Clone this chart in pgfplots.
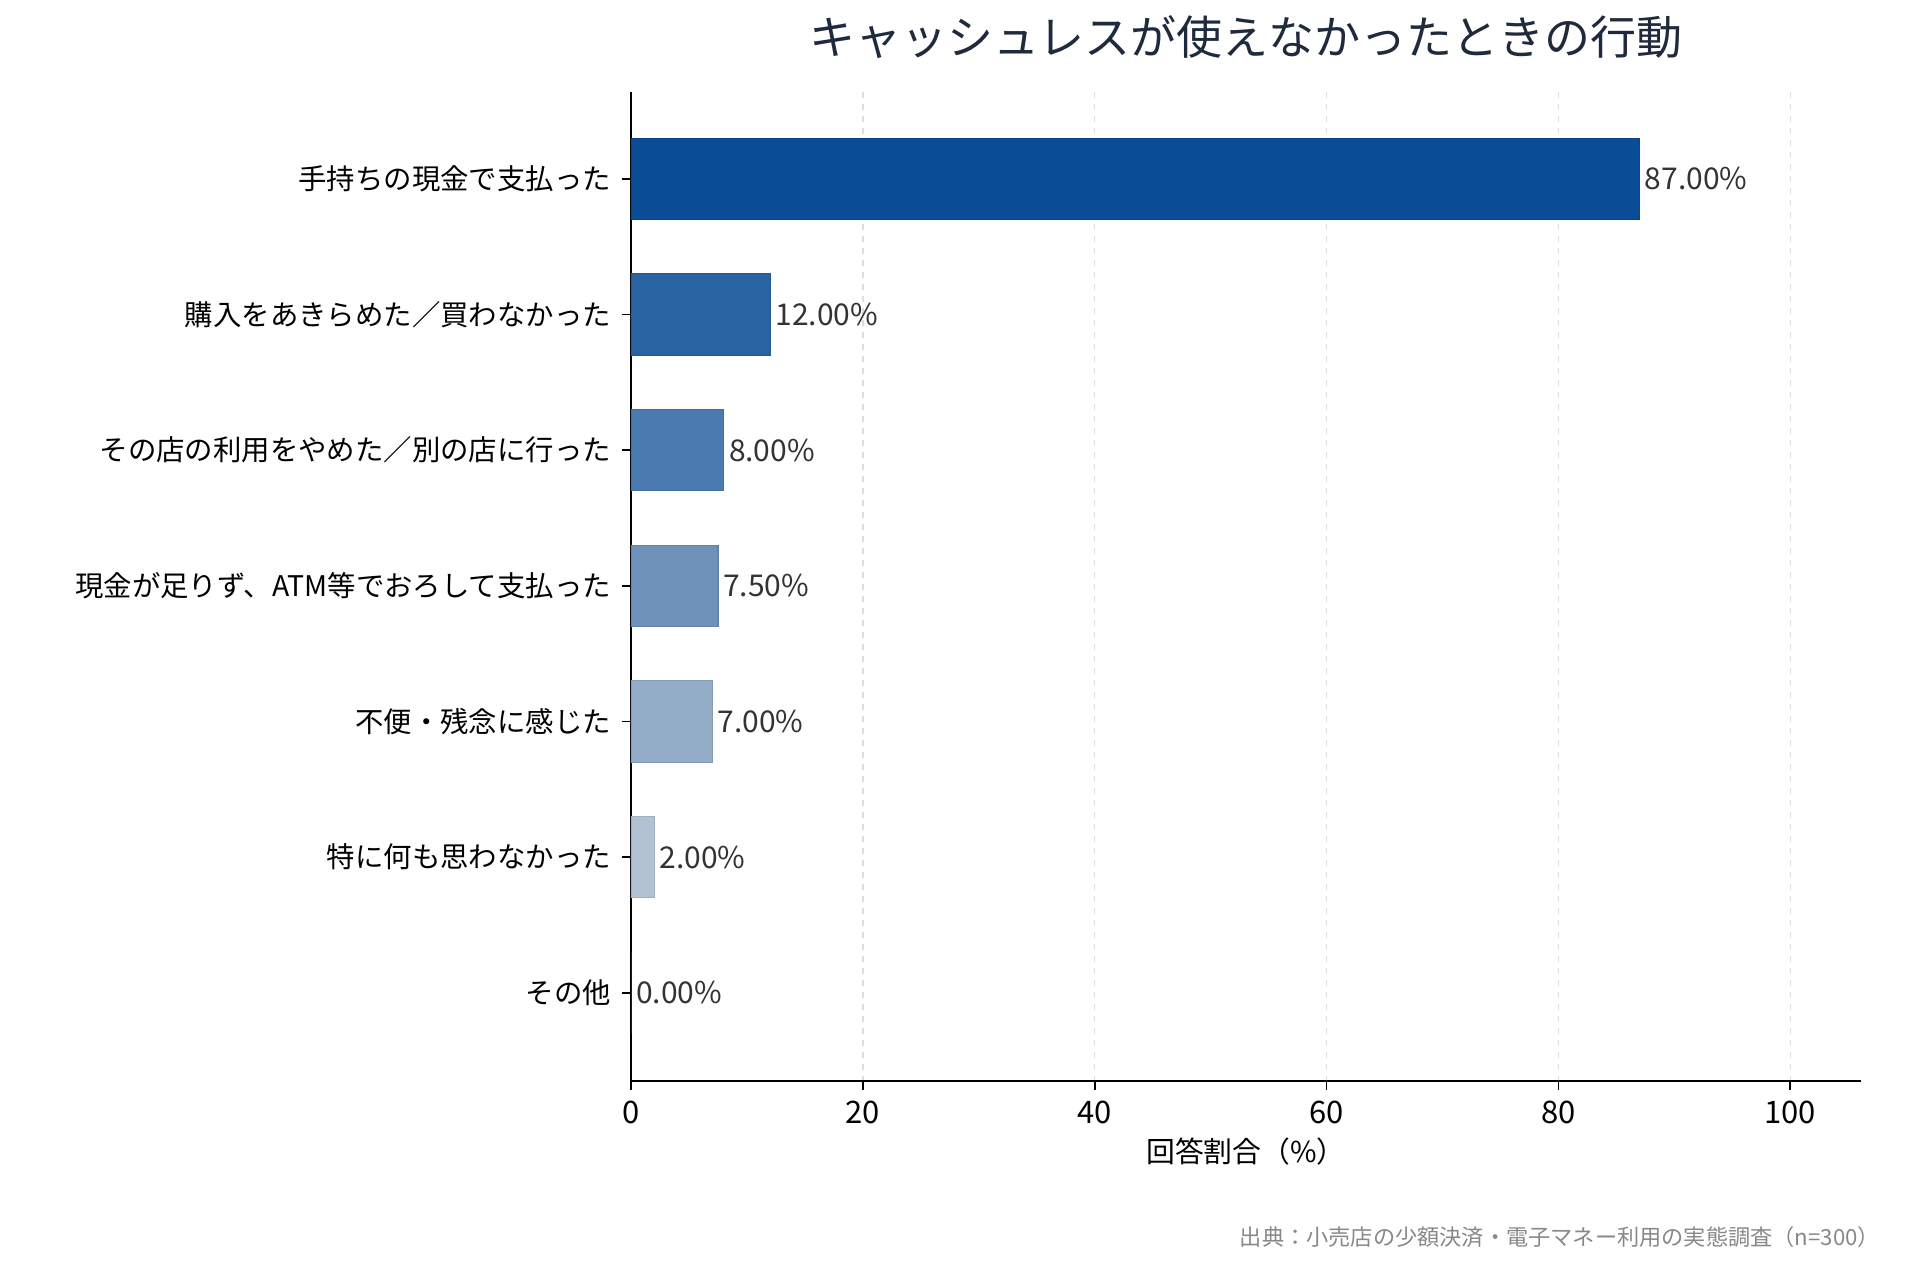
\documentclass[border=0pt]{standalone}
\usepackage{fontspec}
\setmainfont{Noto Sans CJK JP}
\usepackage{pgfplots}
\pgfplotsset{compat=1.18}
\definecolor{c1}{HTML}{0B4C97}
\definecolor{c2}{HTML}{2963A1}
\definecolor{c3}{HTML}{4A7BAF}
\definecolor{c4}{HTML}{6F92BB}
\definecolor{c5}{HTML}{93ACC7}
\definecolor{c6}{HTML}{B2C2D3}
\definecolor{c7}{HTML}{D0DAE6}
\definecolor{titlec}{HTML}{1F2A3C}
\definecolor{valc}{HTML}{333333}
\definecolor{gridc}{HTML}{DDDDDD}
\definecolor{footc}{HTML}{888888}
\begin{document}
\begin{tikzpicture}
\path[use as bounding box] (-315.5pt,-99.5pt) rectangle (644.5pt,540.5pt);
\begin{axis}[
  at={(0pt,0pt)}, anchor=south west,
  scale only axis,
  width=615pt, height=494.5pt,
  xmin=0, xmax=106.1,
  ymin=-0.64, ymax=6.65,
  y dir=reverse,
  xbar, bar width=0.6, bar shift=0pt,
  axis x line*=bottom, axis y line*=left,
  axis line style={black, line width=1pt},
  xtick={0,20,40,60,80,100},
  ytick={0,1,2,3,4,5,6},
  yticklabels={手持ちの現金で支払った,購入をあきらめた／買わなかった,その店の利用をやめた／別の店に行った,現金が足りず、ATM等でおろして支払った,不便・残念に感じた,特に何も思わなかった,その他},
  tick style={black, line width=0.8pt},
  major tick length=4.5pt,
  tick align=outside,
  xmajorgrids=true,
  grid style={gridc, dashed, line width=0.7pt},
  /pgf/number format/assume math mode=true,
  yticklabel style={font=\fontsize{14.2}{16}\selectfont, text=black, xshift=-2pt},
  xticklabel style={font=\fontsize{15.5}{17}\selectfont, text=black, yshift=-2pt},
  xlabel={回答割合（\%）},
  xlabel style={font=\fontsize{14.4}{16}\selectfont, yshift=0pt},
  title={キャッシュレスが使えなかったときの行動},
  title style={font=\fontsize{23}{26}\selectfont, text=titlec, yshift=7pt},
  nodes near coords={\pgfmathprintnumber[fixed,zerofill,precision=2]{\pgfplotspointmeta}\%},
  nodes near coords style={font=\fontsize{15}{17}\selectfont, text=valc, anchor=west, xshift=-1pt},
  every axis plot/.append style={line width=0.6pt},
]
\addplot[fill=c1, draw=c1!90!black] coordinates {(87,0)};
\addplot[fill=c2, draw=c2!90!black] coordinates {(12,1)};
\addplot[fill=c3, draw=c3!90!black] coordinates {(8,2)};
\addplot[fill=c4, draw=c4!90!black] coordinates {(7.5,3)};
\addplot[fill=c5, draw=c5!90!black] coordinates {(7,4)};
\addplot[fill=c6, draw=c6!90!black] coordinates {(2,5)};
\addplot[fill=c7, draw=none] coordinates {(0,6)};
\end{axis}
\node[anchor=east, font=\fontsize{11.1}{13}\selectfont, text=footc] at (628pt,-78pt) {出典：小売店の少額決済・電子マネー利用の実態調査（n=300）};
\end{tikzpicture}
\end{document}
